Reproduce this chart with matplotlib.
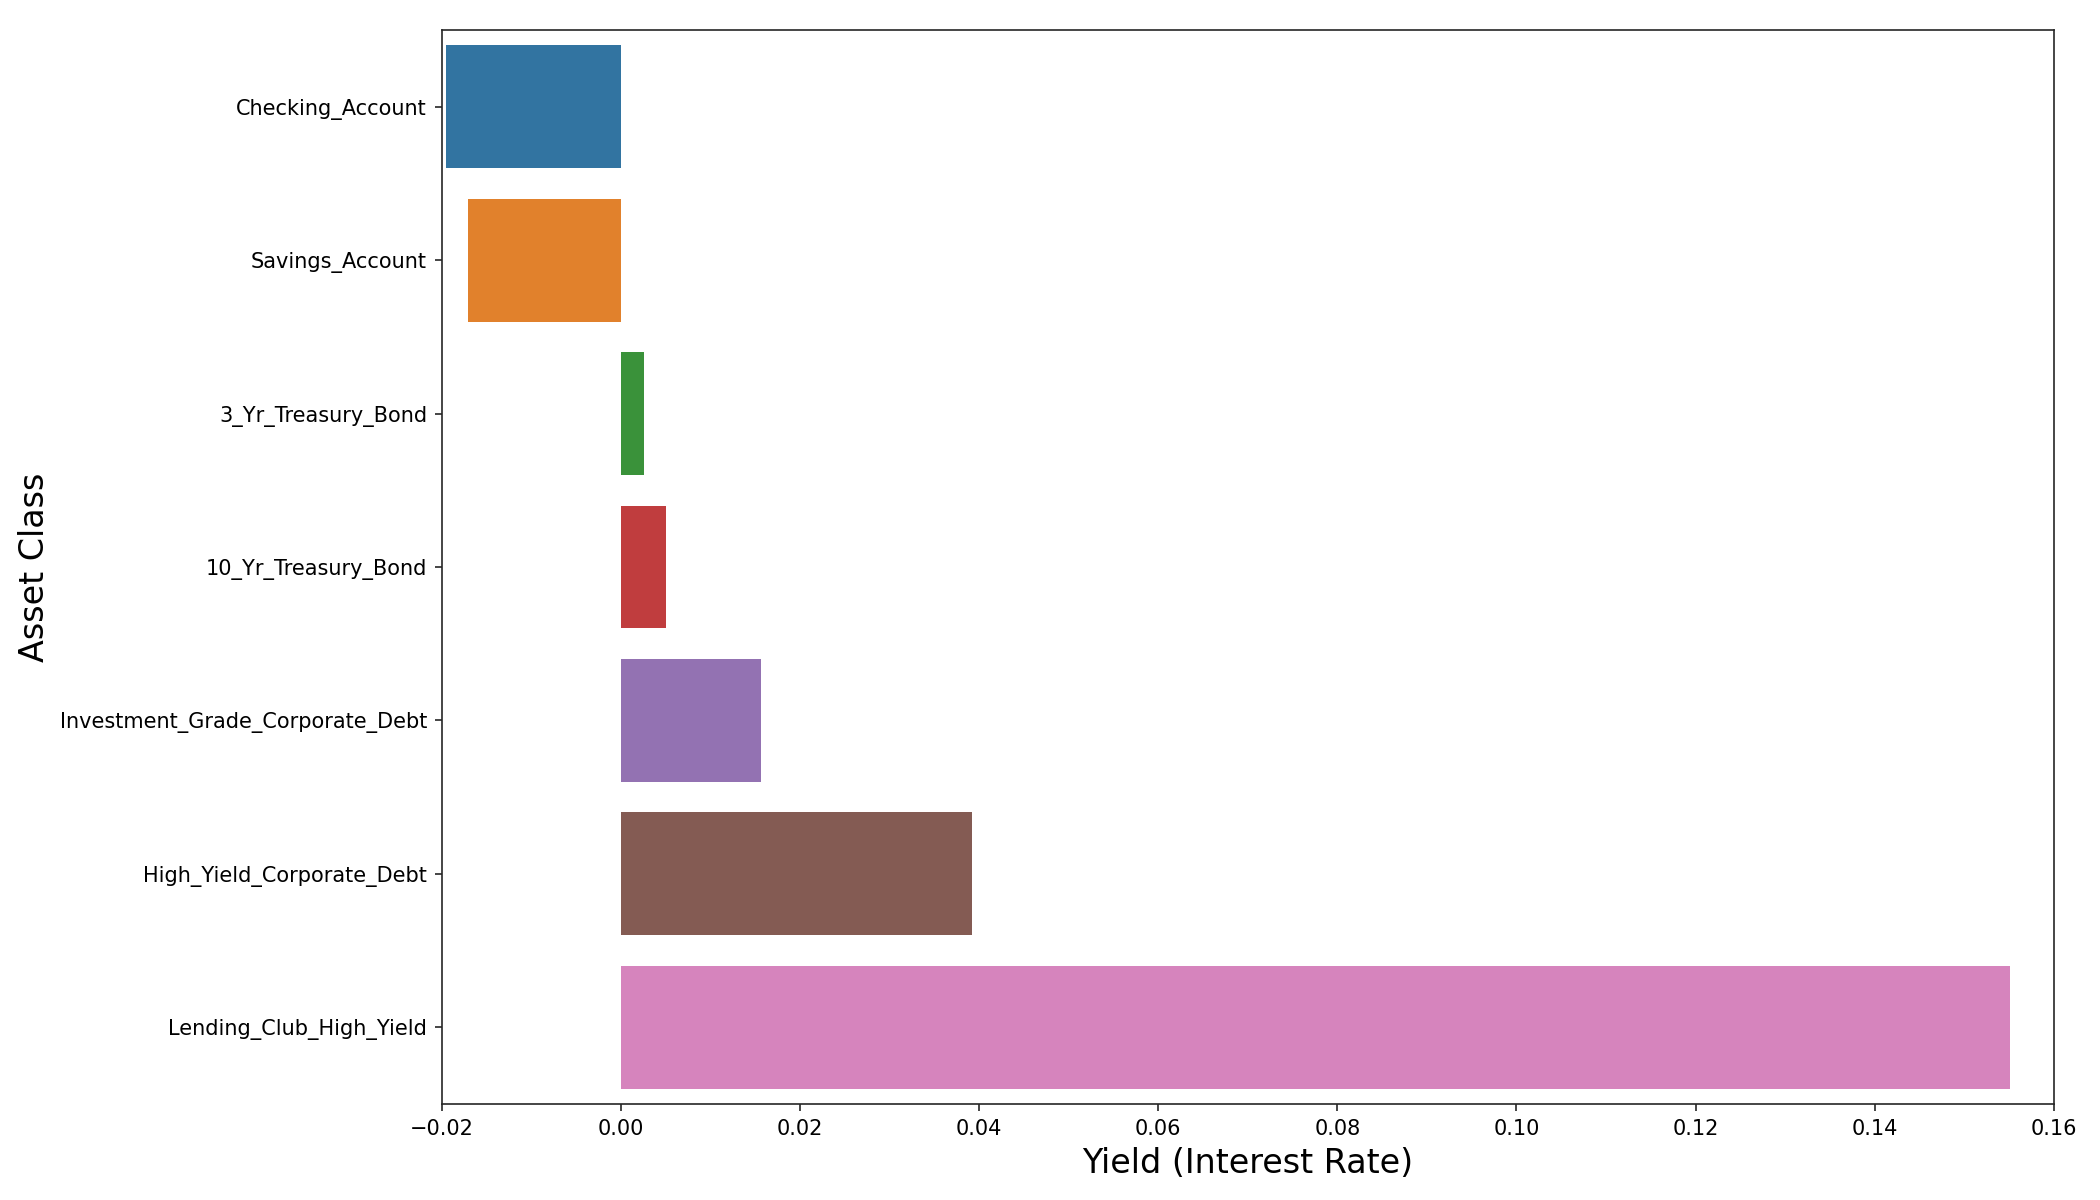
import matplotlib
matplotlib.use("Agg")
import matplotlib.pyplot as plt
import seaborn as sns
import pandas as pd

asset_classes = ["Checking_Account", "Savings_Account", "3_Yr_Treasury_Bond",
                 "10_Yr_Treasury_Bond", "Investment_Grade_Corporate_Debt",
                 "High_Yield_Corporate_Debt", "Lending_Club_High_Yield"]
yields = [-0.0195, -0.0170, 0.0026, 0.0050, 0.0157, 0.0392, 0.1551]

df = pd.DataFrame({"Asset Class": asset_classes, "Yield": yields})

fig, ax = plt.subplots(figsize=(14, 8), dpi=150)
sns.barplot(data=df, x="Yield", y="Asset Class", hue="Asset Class",
            palette="tab10", legend=False, orient="h", ax=ax)

ax.set_xlim(-0.02, 0.16)
ax.set_xlabel("Yield (Interest Rate)", fontsize=16)
ax.set_ylabel("Asset Class", fontsize=16)
for s in ax.spines.values():
    s.set_color(".15")
ax.tick_params(color=".15")

fig.subplots_adjust(left=0.2103, right=0.978, top=0.975, bottom=0.08)
fig.savefig("out.png", dpi=150)
